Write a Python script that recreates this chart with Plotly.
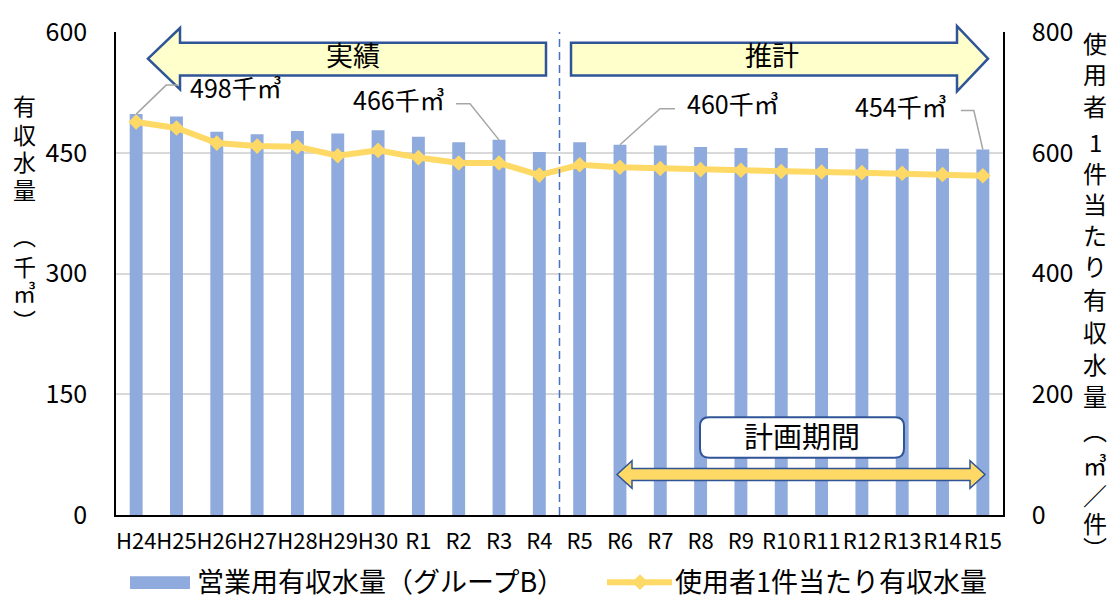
import plotly.graph_objects as go

# --- data -------------------------------------------------------------
years = ["H24", "H25", "H26", "H27", "H28", "H29", "H30",
         "R1", "R2", "R3", "R4", "R5", "R6", "R7", "R8", "R9",
         "R10", "R11", "R12", "R13", "R14", "R15"]
# 営業用有収水量（千㎥）
volume = [498, 495, 476, 473, 477, 474, 478, 470, 463, 466, 451,
          463, 460, 459, 457, 456, 456, 456, 455, 455, 455, 454]
# 使用者1件当たり有収水量（㎥/件）
per_user = [651, 641, 616, 611, 610, 595, 604, 592, 583, 583, 563,
            580, 576, 574, 572, 571, 569, 568, 567, 566, 564, 562]
# labelled years
label_years = ["H24", "R3", "R6", "R15"]

left_ticks = [0, 150, 300, 450, 600]
right_ticks = [0, 200, 400, 600, 800]

BAR_COLOR = "#8FAADC"
LINE_COLOR = "#FFD966"
NAVY = "#2F5597"
PALE = "#FFFFCC"
FONT = "Noto Sans CJK JP"

W, H = 1114, 600
ML, MR, MT, MB = 116, 111, 26, 85
PW, PH = W - ML - MR, H - MT - MB


def fx(p):
    """pixel column -> paper x"""
    return (p - ML) / PW


def fy(p):
    """pixel row -> paper y"""
    return (MT + PH - p) / PH


def poly(points):
    return "M" + "L".join(f"{fx(a):.5f},{fy(b):.5f}" for a, b in points) + "Z"


def label(xp, yp, text, size, xanchor="center", nudge=4):
    # CJK glyphs sit a little low in their line box; nudge them up
    return dict(xref="paper", yref="paper", x=fx(xp), y=fy(yp - nudge),
                text=text, showarrow=False, xanchor=xanchor, yanchor="middle",
                font=dict(size=size, color="black", family=FONT))


fig = go.Figure()

fig.add_trace(go.Bar(
    x=years, y=volume, name="営業用有収水量（グループB）",
    marker=dict(color=BAR_COLOR, line=dict(width=0)),
    width=0.32, yaxis="y",
))
fig.add_trace(go.Scatter(
    x=years, y=per_user, name="使用者1件当たり有収水量",
    mode="lines+markers", yaxis="y2",
    line=dict(color=LINE_COLOR, width=6),
    marker=dict(symbol="diamond", size=12, color=LINE_COLOR),
))

shapes = []
annotations = []

# boundary between actual and projected
shapes.append(dict(type="line", xref="x", yref="paper",
                   x0=10.5, x1=10.5, y0=0, y1=1,
                   line=dict(color="#4472C4", width=1.5, dash="8px,5px")))

# 実績 arrow (pointing left)
shapes.append(dict(type="path", xref="paper", yref="paper",
                   path=poly([(148, 53), (180, 22), (180, 37), (546, 37),
                              (546, 70), (180, 70), (180, 84)]),
                   fillcolor=PALE, line=dict(color=NAVY, width=2.5)))
# 推計 arrow (pointing right)
shapes.append(dict(type="path", xref="paper", yref="paper",
                   path=poly([(571, 37), (957, 37), (957, 20), (988, 53),
                              (957, 86), (957, 70), (571, 70)]),
                   fillcolor=PALE, line=dict(color=NAVY, width=2.5)))
annotations.append(label(353, 53, "実績", 27))
annotations.append(label(772, 53, "推計", 27))

# 計画期間 box and double-headed arrow
bx0, bx1, by0, by1, r = 700, 904, 416, 457, 9
box_path = (f"M{fx(bx0 + r):.5f},{fy(by0):.5f}"
            f"L{fx(bx1 - r):.5f},{fy(by0):.5f}"
            f"Q{fx(bx1):.5f},{fy(by0):.5f} {fx(bx1):.5f},{fy(by0 + r):.5f}"
            f"L{fx(bx1):.5f},{fy(by1 - r):.5f}"
            f"Q{fx(bx1):.5f},{fy(by1):.5f} {fx(bx1 - r):.5f},{fy(by1):.5f}"
            f"L{fx(bx0 + r):.5f},{fy(by1):.5f}"
            f"Q{fx(bx0):.5f},{fy(by1):.5f} {fx(bx0):.5f},{fy(by1 - r):.5f}"
            f"L{fx(bx0):.5f},{fy(by0 + r):.5f}"
            f"Q{fx(bx0):.5f},{fy(by0):.5f} {fx(bx0 + r):.5f},{fy(by0):.5f}Z")
shapes.append(dict(type="path", xref="paper", yref="paper", path=box_path,
                   fillcolor="white", line=dict(color=NAVY, width=2)))
annotations.append(label(802, 437, "計画期間", 29, nudge=3))
shapes.append(dict(type="path", xref="paper", yref="paper",
                   path=poly([(617, 474), (632, 460), (632, 468), (970, 468),
                              (970, 460), (985, 474), (970, 488), (970, 480),
                              (632, 480), (632, 488)]),
                   fillcolor=LINE_COLOR, line=dict(color=NAVY, width=1.5)))

# value call-outs: leader polylines (pixel offsets from the bar top)
callouts = {
    "H24": dict(leader="M0,0L30,29L42,29", xanchor="left", xshift=52, yshift=27),
    "R3": dict(leader="M0,0L-29,36L-43,36", xanchor="right", xshift=-52, yshift=41),
    "R6": dict(leader="M0,0L40,36L55,36", xanchor="left", xshift=65, yshift=42),
    "R15": dict(leader="M0,0L-9,39L-22,39", xanchor="right", xshift=-34, yshift=44),
}
for yr in label_years:
    i = years.index(yr)
    v = volume[i]
    c = callouts[yr]
    shapes.append(dict(type="path", xref="x", yref="y",
                       xsizemode="pixel", ysizemode="pixel",
                       xanchor=i, yanchor=v, path=c["leader"],
                       line=dict(color="#A6A6A6", width=1.5)))
    annotations.append(dict(xref="x", yref="y", x=i, y=v,
                            text=f"{v}千㎥", showarrow=False,
                            xanchor=c["xanchor"], yanchor="middle",
                            xshift=c["xshift"], yshift=c["yshift"],
                            font=dict(size=25, color="black", family=FONT)))

# vertical axis titles, one character per row
left_title = [("有", 104), ("収", 133), ("水", 161), ("量", 189),
              ("︵", 236), ("千", 267), ("㎥", 293), ("︶", 322)]
right_title = [("使", 41), ("用", 72), ("者", 104), ("1", 141), ("件", 172),
               ("当", 204), ("た", 235), ("り", 266), ("有", 300),
               ("収", 333), ("水", 366), ("量", 398), ("︵", 432),
               ("㎥", 468), ("／", 498), ("件", 527), ("︶", 552)]
for ch, yy in left_title:
    annotations.append(label(24, yy, ch, 23))
for ch, yy in right_title:
    annotations.append(label(1095, yy, ch, 24))

# legend
shapes.append(dict(type="rect", xref="paper", yref="paper",
                   x0=fx(130), x1=fx(190), y0=fy(590), y1=fy(577),
                   fillcolor=BAR_COLOR, line=dict(width=0)))
annotations.append(label(195, 582, "営業用有収水量（グループB）", 27,
                         xanchor="left", nudge=1))
shapes.append(dict(type="line", xref="paper", yref="paper",
                   x0=fx(607), x1=fx(672), y0=fy(583), y1=fy(583),
                   line=dict(color=LINE_COLOR, width=6)))
shapes.append(dict(type="path", xref="paper", yref="paper",
                   path=poly([(640, 575), (648, 583), (640, 591), (632, 583)]),
                   fillcolor=LINE_COLOR, line=dict(width=0)))
annotations.append(label(673, 582, "使用者1件当たり有収水量", 27,
                         xanchor="left", nudge=1))

fig.update_layout(
    width=W, height=H,
    margin=dict(l=ML, r=MR, t=MT, b=MB, pad=0),
    paper_bgcolor="white", plot_bgcolor="white",
    font=dict(family=FONT, color="black"),
    showlegend=False,
    xaxis=dict(
        type="category", tickmode="array", tickvals=years, ticktext=years,
        range=[-0.5, len(years) - 0.5], tickangle=0,
        showline=True, linecolor="black", linewidth=1.5,
        ticks="", tickfont=dict(size=22, family=FONT),
        ticklabelstandoff=6, showgrid=False, zeroline=False,
    ),
    yaxis=dict(
        range=[0, 600], tickvals=left_ticks,
        showline=True, linecolor="black", linewidth=1.5,
        showgrid=True, gridcolor="#D9D9D9", gridwidth=1.5,
        zeroline=False, ticks="", tickfont=dict(size=25, family=FONT),
        ticklabelstandoff=22,
    ),
    yaxis2=dict(
        range=[0, 800], tickvals=right_ticks, overlaying="y", side="right",
        showline=True, linecolor="black", linewidth=1.5,
        showgrid=False, zeroline=False, ticks="",
        tickfont=dict(size=25, family=FONT), ticklabelstandoff=22,
    ),
    shapes=shapes,
    annotations=annotations,
)

fig.write_html("out.html")
